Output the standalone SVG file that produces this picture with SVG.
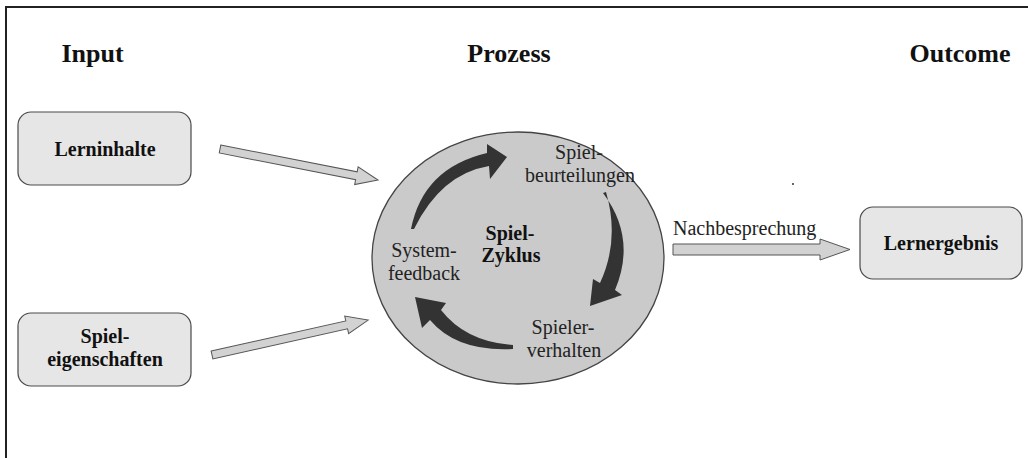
<svg xmlns="http://www.w3.org/2000/svg" width="1028" height="458" viewBox="0 0 1028 458">
<style>
text{font-family:'Liberation Serif','Times New Roman',Tinos,'DejaVu Serif',serif}
.hdr{font-weight:bold;font-size:26px;fill:#111;text-anchor:middle}
.bt{font-weight:bold;font-size:20px;fill:#111;text-anchor:middle}
.rt{font-size:20px;fill:#222;text-anchor:middle}
.box{fill:#e6e6e6;stroke:#4a4a4a;stroke-width:1.2}
.flow{fill:#d2d2d2;stroke:#555;stroke-width:1}
.cyc{fill:#333}
</style>
<rect x="6" y="7" width="1040" height="470" fill="#fff" stroke="#222" stroke-width="2"/>
<text class="hdr" x="92.5" y="62" font-family="Liberation Serif, serif">Input</text>
<text class="hdr" x="509" y="62" font-family="Liberation Serif, serif">Prozess</text>
<text class="hdr" x="960" y="62" font-family="Liberation Serif, serif">Outcome</text>

<g id="lerninhalte">
<rect class="box" x="18" y="112" width="173" height="73" rx="13"/>
<text class="bt" x="105" y="156" font-family="Liberation Serif, serif">Lerninhalte</text>
</g>
<g id="spieleigenschaften">
<rect class="box" x="18" y="313" width="173" height="73" rx="13"/>
<text class="bt" x="105" y="343" font-family="Liberation Serif, serif">Spiel-</text>
<text class="bt" x="105" y="366" font-family="Liberation Serif, serif">eigenschaften</text>
</g>
<g id="spielzyklus">
<ellipse cx="518" cy="258" rx="146" ry="126" fill="#cacaca" stroke="#444" stroke-width="1.3"/>
<text class="bt" x="510" y="240" font-family="Liberation Serif, serif">Spiel-</text>
<text class="bt" x="511" y="262" font-family="Liberation Serif, serif">Zyklus</text>
<text class="rt" x="424" y="257" font-family="Liberation Serif, serif">System-</text>
<text class="rt" x="424" y="280" font-family="Liberation Serif, serif">feedback</text>
<text class="rt" x="579" y="159" font-family="Liberation Serif, serif">Spiel-</text>
<text class="rt" x="580" y="182" font-family="Liberation Serif, serif">beurteilungen</text>
<text class="rt" x="563" y="334" font-family="Liberation Serif, serif">Spieler-</text>
<text class="rt" x="564" y="357" font-family="Liberation Serif, serif">verhalten</text>
<path class="cyc" d="M411,229 Q423,168 487,153 L487,144 L507,157 L490,179 L489,166 Q441,174 414,229 Z"/>
<path class="cyc" d="M603,193 Q637,238 615,290 L622,295 L590,306 L593,279 L600,283 Q620,240 606,192 Z"/>
<path class="cyc" d="M513,349 Q457,352 430,320 L422,328 L415,297 L446,303 L441,310 Q466,342 513,345 Z"/>
</g>
<g id="lernergebnis">
<rect class="box" x="860" y="207" width="162" height="72" rx="13"/>
<text class="bt" x="941" y="250" font-family="Liberation Serif, serif">Lernergebnis</text>
</g>
<circle cx="793" cy="184" r="1" fill="#333"/>

<g id="connectors">
<polygon class="flow" transform="translate(220,149) rotate(11.1)" points="0,-4 139,-4 139,-9 161,0 139,9 139,4 0,4"/>
<polygon class="flow" transform="translate(212,355) rotate(-12.6)" points="0,-4 138,-4 138,-9 160,0 138,9 138,4 0,4"/>
<polygon class="flow" points="673,244 820,244 820,239 850,249.5 820,260 820,255 673,255"/>
<text class="rt" x="673" y="235" style="text-anchor:start" font-family="Liberation Serif, serif">Nachbesprechung</text>
</g>
</svg>
